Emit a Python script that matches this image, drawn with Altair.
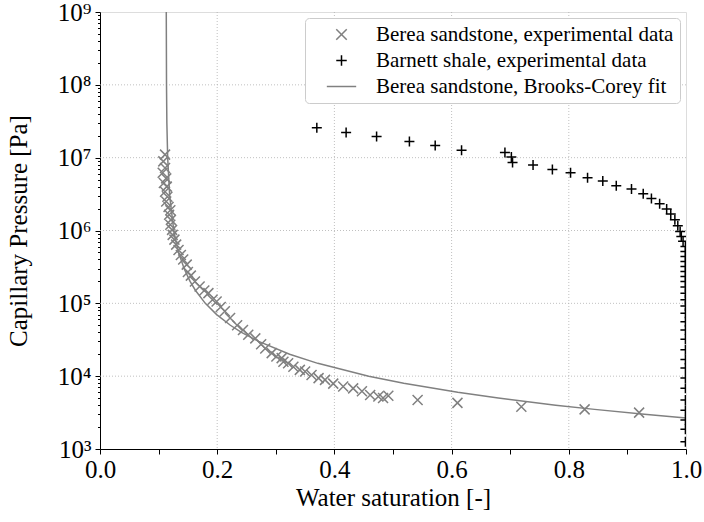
import altair as alt
import pandas as pd

# ---------------- data ----------------
series_names = [
    "Berea sandstone, experimental data",
    "Barnett shale, experimental data",
    "Berea sandstone, Brooks-Corey fit",
]

berea_sw = [0.111, 0.108, 0.111, 0.107, 0.113, 0.109, 0.114, 0.111, 0.115, 0.113,
            0.117, 0.120, 0.118, 0.121, 0.120, 0.123, 0.124, 0.127, 0.130, 0.134,
            0.138, 0.142, 0.148, 0.150, 0.155, 0.162, 0.170, 0.178, 0.185, 0.192,
            0.199, 0.206, 0.213, 0.222, 0.234, 0.244, 0.253, 0.265, 0.275, 0.282,
            0.293, 0.301, 0.310, 0.313, 0.321, 0.330, 0.341, 0.350, 0.361, 0.373,
            0.384, 0.398, 0.415, 0.432, 0.447, 0.461, 0.475, 0.483, 0.492, 0.542,
            0.610, 0.719, 0.827, 0.920]
berea_pc = [1.10e7, 8.9e6, 7.2e6, 6.2e6, 5.2e6, 4.5e6, 4.0e6, 3.4e6, 2.9e6, 2.5e6,
            2.1e6, 1.9e6, 1.65e6, 1.4e6, 1.2e6, 1.02e6, 8.7e5, 7.5e5, 6.4e5, 5.4e5,
            4.6e5, 4.0e5, 3.4e5, 2.7e5, 2.4e5, 2.0e5, 1.7e5, 1.5e5, 1.38e5, 1.12e5,
            1.06e5, 8.9e4, 7.8e4, 6.3e4, 5.0e4, 4.3e4, 3.7e4, 3.3e4, 2.75e4, 2.4e4,
            2.07e4, 1.86e4, 1.77e4, 1.58e4, 1.5e4, 1.35e4, 1.22e4, 1.16e4, 1.04e4, 9.4e3,
            8.9e3, 7.9e3, 7.2e3, 6.8e3, 6.2e3, 5.5e3, 5.25e3, 5.0e3, 5.4e3, 4.7e3,
            4.3e3, 3.8e3, 3.5e3, 3.16e3]

barnett_sw = [0.370, 0.420, 0.472, 0.528, 0.572, 0.617, 0.691, 0.702, 0.704, 0.739,
              0.772, 0.803, 0.832, 0.858, 0.881, 0.907, 0.927, 0.941, 0.955, 0.967,
              0.974, 0.981, 0.986, 0.990, 0.992, 0.995,
              0.999, 0.999, 0.999, 0.999, 0.999, 0.999, 0.999, 0.999, 0.999, 0.999,
              0.999, 0.999, 0.999, 0.999, 0.999, 0.999, 0.999, 0.999, 0.999, 0.999,
              0.999, 0.999, 0.999, 0.999, 0.999, 0.999]
barnett_pc = [2.57e7, 2.21e7, 1.96e7, 1.67e7, 1.47e7, 1.26e7, 1.18e7, 1.02e7, 8.6e6, 7.9e6,
              6.9e6, 6.2e6, 5.3e6, 4.8e6, 4.1e6, 3.7e6, 3.2e6, 2.75e6, 2.33e6, 1.97e6,
              1.68e6, 1.41e6, 1.16e6, 9.7e5, 8.3e5, 7.1e5,
              6.04e5, 5.15e5, 4.40e5, 3.76e5, 3.21e5, 2.74e5, 2.33e5, 2.0e5, 1.67e5, 1.38e5,
              1.12e5, 9.2e4, 7.3e4, 5.6e4, 4.3e4, 3.2e4, 2.3e4, 1.7e4, 1.29e4, 9.4e3,
              6.8e3, 4.7e3, 3.4e3, 2.5e3, 1.86e3, 1.26e3]

fit_sw = [0.1131, 0.1135, 0.1141, 0.1155, 0.1189, 0.1259, 0.1296, 0.1341, 0.1435, 0.1537,
          0.1630, 0.1797, 0.1991, 0.2225, 0.2414, 0.2707, 0.3236, 0.3717, 0.4586, 0.5183,
          0.6105, 0.6797, 0.7776, 0.8440, 0.9290, 1.0]
fit_pc = [1e9, 1e8, 3e7, 1e7, 3e6, 1e6, 7e5, 5e5, 3e5, 2e5,
          1.5e5, 1e5, 7e4, 5e4, 4e4, 3e4, 2e4, 1.5e4, 1e4, 8e3,
          6e3, 5e3, 4e3, 3.5e3, 3e3, 2.67e3]

x_tick_values = [0.0, 0.1, 0.2, 0.3, 0.4, 0.5, 0.6, 0.7, 0.8, 0.9, 1.0]
y_tick_values = [m * 10.0 ** e for e in range(3, 9) for m in range(1, 10)] + [1e9]
x_grid_values = [0.2, 0.4, 0.6, 0.8]
y_grid_values = [1e4, 1e5, 1e6, 1e7, 1e8]

# ---------------- tables ----------------
pts = pd.DataFrame({
    "sw": berea_sw + barnett_sw,
    "pc": berea_pc + barnett_pc,
    "series": [series_names[0]] * len(berea_sw) + [series_names[1]] * len(barnett_sw),
})
fit = pd.DataFrame({"sw": fit_sw, "pc": fit_pc, "series": [series_names[2]] * len(fit_sw)})
xg = pd.DataFrame({"v": x_grid_values})
yg = pd.DataFrame({"v": y_grid_values})

FONT = "Liberation Serif"
X_PATH = "M-1,-1L1,1M-1,1L1,-1"
P_PATH = "M-1,0L1,0M0,-1L0,1"
L_PATH = "M-2.8,0L2.8,0"

xs = alt.Scale(domain=[0, 1], nice=False, zero=False)
ys = alt.Scale(type="log", domain=[1e3, 1e9], nice=False)

is_decade = "abs(log(datum.value)/LN10 - round(log(datum.value)/LN10)) < 1e-6"
y_label_expr = (is_decade + " ? '10' + ['\u2070','\u00b9','\u00b2','\u00b3','\u2074','\u2075','\u2076','\u2077','\u2078','\u2079']"
                "[round(log(datum.value)/LN10)] : ''")

x_axis = alt.Axis(
    values=x_tick_values,
    labelExpr="round(datum.value*10) % 2 == 0 ? format(datum.value, '.1f') : ''",
    title="Water saturation [-]",
    grid=False, tickSize=5, tickColor="black", domainColor="black",
    labelFont=FONT, labelFontSize=25, labelColor="black", labelFlush=False,
    labelOverlap=False, labelPadding=3,
    titleFont=FONT, titleFontSize=25, titleFontWeight="normal", titleColor="black",
    titlePadding=3,
)
y_axis = alt.Axis(
    values=y_tick_values,
    labelExpr=y_label_expr,
    title="Capillary Pressure [Pa]",
    grid=False,
    tickSize={"condition": {"test": is_decade, "value": 5}, "value": 2.5},
    tickColor="black", domainColor="black",
    labelFont=FONT, labelFontSize=25, labelColor="black", labelFlush=False,
    labelOverlap=False, labelPadding=4,
    titleFont=FONT, titleFontSize=25, titleFontWeight="normal", titleColor="black",
    titlePadding=26,
)

legend = alt.Legend(
    title=None, orient="top-right", offset=6,
    strokeColor="#cccccc", fillColor="white", cornerRadius=4, padding=6,
    labelFont=FONT, labelFontSize=21, labelColor="black", labelLimit=0,
    symbolSize=110, symbolStrokeWidth=1.5, rowPadding=4, symbolOffset=20, labelOffset=24,
)

color = alt.Color("series:N", scale=alt.Scale(domain=series_names,
                  range=["#808080", "#000000", "#808080"]), legend=legend, sort=series_names)
shape = alt.Shape("series:N", scale=alt.Scale(domain=series_names,
                  range=[X_PATH, P_PATH, L_PATH]), legend=legend, sort=series_names)

grid_style = dict(color="#b0b0b0", strokeWidth=0.8, strokeDash=[1, 2])
xgrid = alt.Chart(xg).mark_rule(**grid_style).encode(x=alt.X("v:Q", scale=xs, axis=x_axis))
ygrid = alt.Chart(yg).mark_rule(**grid_style).encode(y=alt.Y("v:Q", scale=ys, axis=y_axis))

line = alt.Chart(fit).mark_line(strokeWidth=1.5, clip=True).encode(
    x=alt.X("sw:Q", scale=xs, axis=x_axis),
    y=alt.Y("pc:Q", scale=ys, axis=y_axis),
    color=color,
    order=alt.Order("sw:Q"),
)

points = alt.Chart(pts).mark_point(filled=False, strokeWidth=1.5, size=100, opacity=1, clip=True).encode(
    x=alt.X("sw:Q", scale=xs, axis=x_axis),
    y=alt.Y("pc:Q", scale=ys, axis=y_axis),
    color=color,
    shape=shape,
)

chart = alt.layer(xgrid, ygrid, line, points).properties(
    width=586, height=437,
    autosize=alt.AutoSizeParams(type="none"),
    padding={"left": 100, "top": 12, "right": 18, "bottom": 73},
).configure_view(stroke="black", strokeWidth=1).configure(background="white")

chart.save("out.html", embed_options={"renderer": "svg", "actions": False})
